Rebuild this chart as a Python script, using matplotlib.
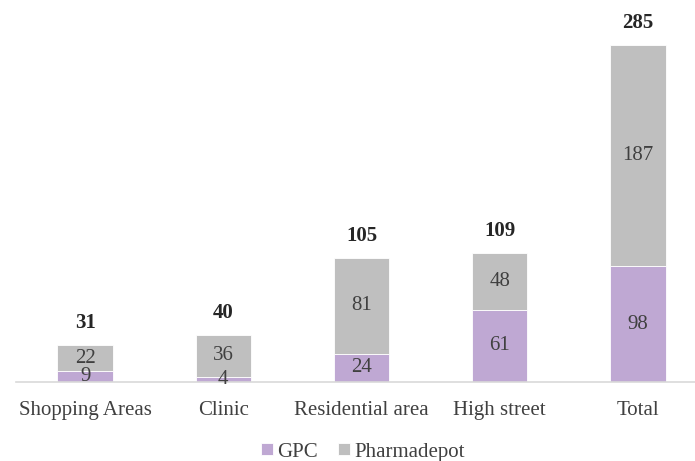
import matplotlib.pyplot as plt
import numpy as np

categories = ["Shopping Areas", "Clinic", "Residential area", "High street", "Total"]
gpc = [9, 4, 24, 61, 98]
pharmadepot = [22, 36, 81, 48, 187]
totals = [31, 40, 105, 109, 285]

GPC_COLOR = "#BFA8D3"
PHARMA_COLOR = "#BFBFBF"
TEXT_COLOR = "#404040"
FS = 15

plt.rcParams['font.family'] = ['Liberation Serif', 'DejaVu Serif']

fig = plt.figure(figsize=(6.95, 4.61), dpi=100)
ax = fig.add_axes([16 / 695, 1 - 382 / 461, (707 - 16) / 695, 355 / 461])

x = np.arange(len(categories))
w = 0.4
ax.bar(x, gpc, w, color=GPC_COLOR, edgecolor="white", linewidth=0.6, label="GPC")
ax.bar(x, pharmadepot, w, bottom=gpc, color=PHARMA_COLOR, edgecolor="white",
       linewidth=0.6, label="Pharmadepot")

for i in range(len(categories)):
    ax.text(x[i], gpc[i] / 2, str(gpc[i]), ha="center", va="center",
            fontsize=FS, color=TEXT_COLOR)
    ax.text(x[i], gpc[i] + pharmadepot[i] / 2, str(pharmadepot[i]), ha="center",
            va="center", fontsize=FS, color=TEXT_COLOR)
    ax.text(x[i], totals[i] + 10, str(totals[i]), ha="center", va="bottom",
            fontsize=FS, fontweight="bold", color="#262626", clip_on=False)

ax.set_xlim(-0.5, 4.5)
ax.set_ylim(0, 300)
ax.set_xticks(x)
ax.set_xticklabels(categories, fontsize=FS, color=TEXT_COLOR)
ax.tick_params(axis="x", length=0, pad=14)
ax.set_yticks([])
for s in ["top", "right", "left"]:
    ax.spines[s].set_visible(False)
ax.spines["bottom"].set_color("#D9D9D9")
ax.spines["bottom"].set_linewidth(1.2)

leg = fig.legend(loc="center", bbox_to_anchor=(363 / 695, 1 - 452 / 461), ncol=2,
                 frameon=False, fontsize=FS, handlelength=0.55, handleheight=0.55,
                 handletextpad=0.2, columnspacing=1.0, borderpad=0)
for t in leg.get_texts():
    t.set_color(TEXT_COLOR)

fig.savefig("out.png", dpi=100)
